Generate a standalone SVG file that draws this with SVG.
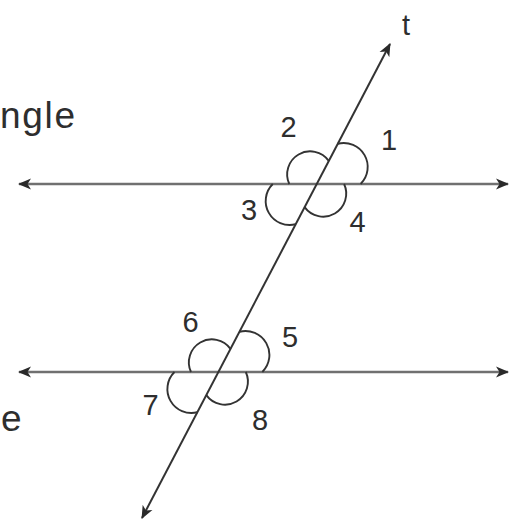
<svg xmlns="http://www.w3.org/2000/svg" width="514" height="522" viewBox="0 0 514 522">
<style>
.hline{stroke:#707070;stroke-width:2.6;fill:none}
.tline{stroke:#333;stroke-width:2;fill:none}
.petal{stroke:#333;stroke-width:1.9;fill:none}
.lbl{font-family:"Liberation Sans",Arial,sans-serif;font-size:29px;fill:#2e2e2e;text-anchor:middle}
.word{font-family:"Liberation Sans",Arial,sans-serif;font-size:37px;fill:#2e2e2e}
</style>
<defs>
<marker id="ah" markerUnits="userSpaceOnUse" markerWidth="14" markerHeight="12" refX="12" refY="6" orient="auto-start-reverse">
<path d="M0,0.5 L13,6 L0,11.5 L3.5,6 Z" fill="#2a2a2a"/>
</marker>
</defs>
<rect width="514" height="522" fill="#fff"/>
<g id="connectors">
<line class="hline" x1="19" y1="184" x2="508" y2="184" marker-start="url(#ah)" marker-end="url(#ah)"/>
<line class="hline" x1="19" y1="372" x2="508" y2="372" marker-start="url(#ah)" marker-end="url(#ah)"/>
<line class="tline" x1="142" y1="518" x2="390" y2="44" marker-start="url(#ah)" marker-end="url(#ah)"/>
</g>
<g id="upper-angles" transform="translate(316.7,184)">
<path class="petal" d="M21.06,-40.26 A24,24 0 0 1 43.94,0"/>
<path class="petal" d="M-27.41,0 A23,23 0 0 1 12.1,-23.13"/>
<path class="petal" d="M-21.06,40.26 A24,24 0 0 1 -43.94,0"/>
<path class="petal" d="M27.41,0 A23,23 0 0 1 -12.1,23.13"/>
</g>
<g id="lower-angles" transform="translate(218.4,372)">
<path class="petal" d="M21.06,-40.26 A24,24 0 0 1 43.94,0"/>
<path class="petal" d="M-27.41,0 A23,23 0 0 1 12.1,-23.13"/>
<path class="petal" d="M-21.06,40.26 A24,24 0 0 1 -43.94,0"/>
<path class="petal" d="M27.41,0 A23,23 0 0 1 -12.1,23.13"/>
</g>
<g id="labels">
<text class="lbl" x="406" y="35">t</text>
<text class="lbl" x="389" y="150">1</text>
<text class="lbl" x="288.5" y="137">2</text>
<text class="lbl" x="249" y="220">3</text>
<text class="lbl" x="357.5" y="232">4</text>
<text class="lbl" x="290" y="347">5</text>
<text class="lbl" x="190.5" y="332">6</text>
<text class="lbl" x="150.5" y="415">7</text>
<text class="lbl" x="260" y="430">8</text>
<text class="word" x="0" y="128" textLength="75" lengthAdjust="spacing">ngle</text>
<text class="word" x="1" y="431">e</text>
</g>
</svg>
